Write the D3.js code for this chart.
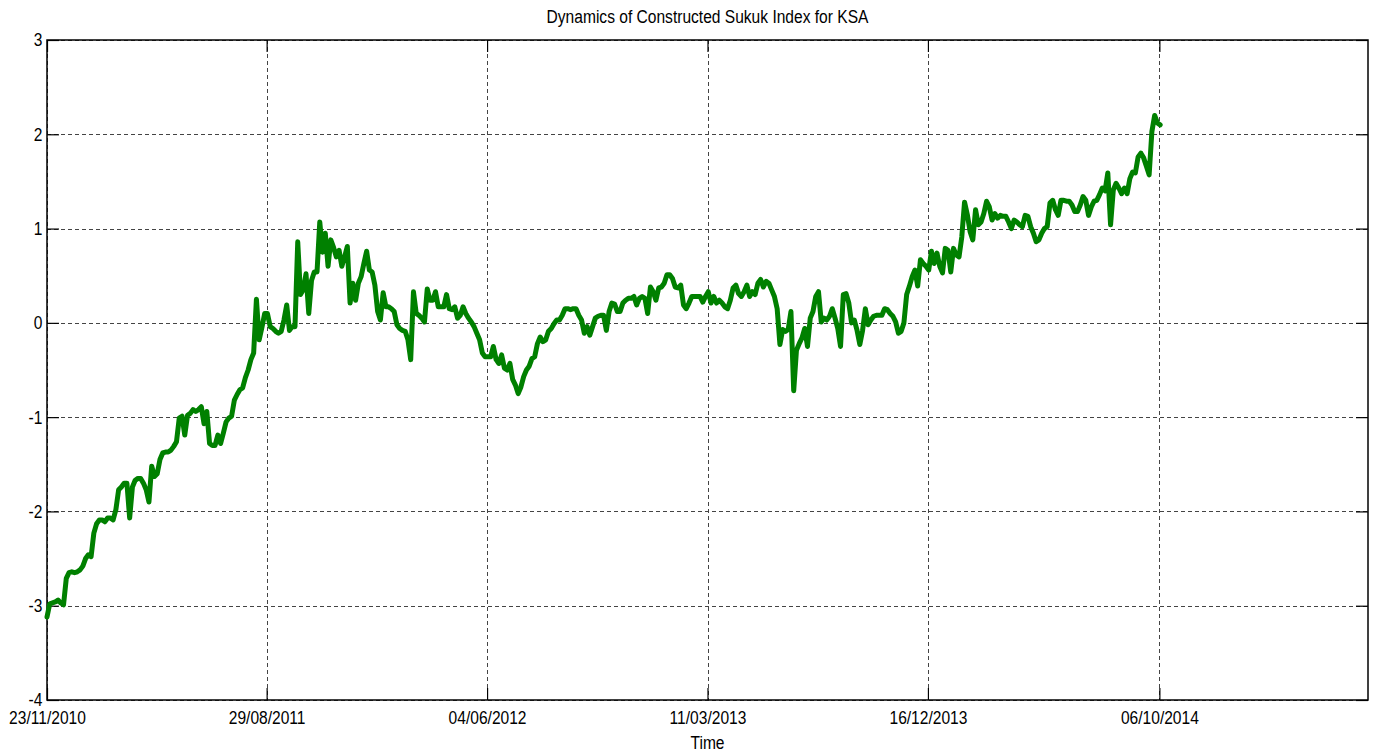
<!DOCTYPE html>
<html>
<head>
<meta charset="utf-8">
<script src="https://cdn.jsdelivr.net/npm/d3@7"></script>
<style>
  body { margin: 0; background: #fff; }
  text { font-family: "Liberation Sans", Arial, Helvetica, sans-serif; fill: #000; }
</style>
</head>
<body>
<svg id="chart" width="1373" height="752"></svg>
<script>
// Twice-weekly observations of the constructed sukuk index, starting 23/11/2010
const startDate = "2010-11-23";
const stepHours = 84;
const indexValues = [
  -3.12, -2.98, -2.97, -2.96, -2.94, -2.97, -2.99, -2.71, -2.65, -2.64,
  -2.65, -2.64, -2.62, -2.58, -2.50, -2.46, -2.48, -2.23, -2.13, -2.09,
  -2.09, -2.11, -2.07, -2.07, -2.09, -1.98, -1.77, -1.74, -1.70, -1.70,
  -2.07, -1.74, -1.67, -1.65, -1.65, -1.70, -1.77, -1.90, -1.52, -1.63,
  -1.60, -1.45, -1.38, -1.37, -1.37, -1.35, -1.31, -1.26, -1.01, -0.99,
  -1.19, -0.98, -0.96, -0.92, -0.94, -0.92, -0.89, -1.07, -0.94, -1.28,
  -1.30, -1.30, -1.19, -1.28, -1.17, -1.05, -1.01, -0.99, -0.82, -0.76,
  -0.71, -0.69, -0.58, -0.50, -0.39, -0.32, 0.25, -0.18, -0.05, 0.10,
  0.10, -0.04, -0.06, -0.09, -0.11, -0.09, 0.03, 0.19, -0.08, -0.04,
  -0.04, 0.86, 0.30, 0.35, 0.52, 0.10, 0.45, 0.54, 0.54, 1.07,
  0.75, 0.95, 0.60, 0.88, 0.80, 0.70, 0.77, 0.60, 0.70, 0.81,
  0.21, 0.42, 0.24, 0.42, 0.49, 0.63, 0.76, 0.56, 0.54, 0.40,
  0.12, 0.03, 0.32, 0.17, 0.17, 0.15, 0.12, -0.02, -0.06, -0.08,
  -0.09, -0.18, -0.39, 0.33, 0.10, 0.08, 0.05, 0.01, 0.36, 0.24,
  0.24, 0.33, 0.17, 0.17, 0.17, 0.30, 0.15, 0.14, 0.17, 0.05,
  0.08, 0.17, 0.10, 0.05, 0.01, -0.04, -0.11, -0.18, -0.32, -0.36,
  -0.36, -0.36, -0.25, -0.39, -0.43, -0.34, -0.48, -0.50, -0.43, -0.60,
  -0.66, -0.75, -0.68, -0.57, -0.50, -0.46, -0.38, -0.36, -0.22, -0.15,
  -0.20, -0.18, -0.09, -0.06, -0.01, 0.03, 0.03, 0.08, 0.15, 0.15,
  0.14, 0.15, 0.15, 0.08, 0.03, -0.11, -0.04, -0.13, -0.04, 0.05,
  0.07, 0.08, 0.08, -0.08, 0.12, 0.21, 0.20, 0.12, 0.12, 0.21,
  0.24, 0.26, 0.26, 0.28, 0.19, 0.26, 0.28, 0.26, 0.10, 0.38,
  0.33, 0.24, 0.37, 0.38, 0.42, 0.51, 0.51, 0.47, 0.38, 0.37,
  0.40, 0.19, 0.15, 0.21, 0.28, 0.28, 0.28, 0.28, 0.22, 0.28,
  0.33, 0.21, 0.28, 0.21, 0.24, 0.21, 0.17, 0.15, 0.24, 0.37,
  0.40, 0.31, 0.28, 0.33, 0.40, 0.28, 0.33, 0.30, 0.42, 0.46,
  0.38, 0.44, 0.42, 0.35, 0.28, 0.15, -0.23, -0.07, -0.09, -0.07,
  0.12, -0.72, -0.29, -0.22, -0.16, -0.06, -0.25, 0.05, 0.12, 0.28,
  0.33, 0.01, 0.05, 0.03, 0.07, 0.15, 0.05, -0.06, -0.25, 0.30,
  0.31, 0.21, 0.00, 0.03, -0.08, -0.23, -0.08, 0.15, -0.02, 0.03,
  0.07, 0.08, 0.08, 0.08, 0.15, 0.14, 0.10, 0.07, 0.01, -0.11,
  -0.09, 0.00, 0.30, 0.39, 0.49, 0.56, 0.39, 0.67, 0.63, 0.60,
  0.56, 0.76, 0.63, 0.74, 0.60, 0.53, 0.79, 0.77, 0.54, 0.79,
  0.72, 0.70, 0.91, 1.28, 1.15, 0.97, 0.88, 1.20, 1.04, 1.07,
  1.16, 1.29, 1.23, 1.09, 1.16, 1.11, 1.14, 1.13, 1.13, 1.07,
  1.00, 1.09, 1.07, 1.04, 1.02, 1.14, 1.13, 1.02, 0.95, 0.86,
  0.88, 0.95, 1.00, 1.02, 1.27, 1.30, 1.20, 1.14, 1.30, 1.30,
  1.29, 1.29, 1.25, 1.18, 1.18, 1.25, 1.34, 1.30, 1.14, 1.23,
  1.29, 1.30, 1.36, 1.43, 1.40, 1.59, 1.04, 1.41, 1.48, 1.43,
  1.37, 1.43, 1.37, 1.53, 1.60, 1.59, 1.76, 1.80, 1.75, 1.66,
  1.57, 2.03, 2.20, 2.12, 2.10
];
const xTickLabels = ["23/11/2010", "29/08/2011", "04/06/2012", "11/03/2013", "16/12/2013", "06/10/2014"];
const yTickValues = [-4, -3, -2, -1, 0, 1, 2, 3];
const xLimits = ["2010-11-23", "2015-06-28"];
const yLimits = [-4, 3];
const titleText = "Dynamics of Constructed Sukuk Index for KSA";
const xLabelText = "Time";

const W = 1373, H = 752;
const margin = { top: 40, right: 5, bottom: 52, left: 47 };
const innerW = W - margin.left - margin.right;
const innerH = H - margin.top - margin.bottom;
const narrow = "scale(0.82,1)";
const fontPx = 19;

const parseIso = d3.utcParse("%Y-%m-%d");
const parseDmy = d3.utcParse("%d/%m/%Y");
const fmtDmy = d3.utcFormat("%d/%m/%Y");

const start = parseIso(startDate);
const series = indexValues.map((v, i) => ({ date: d3.utcHour.offset(start, i * stepHours), value: v }));
const xTicks = xTickLabels.map(parseDmy);

const x = d3.scaleUtc().domain(xLimits.map(parseIso)).range([0, innerW]);
const y = d3.scaleLinear().domain(yLimits).range([innerH, 0]);

const svg = d3.select("#chart");
const g = svg.append("g").attr("transform", `translate(${margin.left},${margin.top})`);

// dashed grid
const grid = g.append("g").attr("stroke", "#444").attr("stroke-width", 1).attr("stroke-dasharray", "4,3");
grid.selectAll("line.h").data(yTickValues).join("line")
  .attr("x1", 0).attr("x2", innerW)
  .attr("y1", d => Math.round(y(d)) + 0.5).attr("y2", d => Math.round(y(d)) + 0.5);
grid.selectAll("line.v").data(xTicks).join("line")
  .attr("x1", d => Math.round(x(d)) + 0.5).attr("x2", d => Math.round(x(d)) + 0.5)
  .attr("y1", 0).attr("y2", innerH);

// axes with inward ticks on all four sides
const tick = 12;
const bottomAxis = g.append("g").attr("transform", `translate(0,${innerH})`)
  .call(d3.axisBottom(x).tickValues(xTicks).tickFormat(fmtDmy).tickSizeInner(-tick).tickSizeOuter(0).tickPadding(10.8));
const topAxis = g.append("g")
  .call(d3.axisTop(x).tickValues(xTicks).tickFormat("").tickSizeInner(-tick).tickSizeOuter(0));
const leftAxis = g.append("g")
  .call(d3.axisLeft(y).tickValues(yTickValues).tickFormat(d => String(d)).tickSizeInner(-tick).tickSizeOuter(0).tickPadding(5.7));
const rightAxis = g.append("g").attr("transform", `translate(${innerW},0)`)
  .call(d3.axisRight(y).tickValues(yTickValues).tickFormat("").tickSizeInner(-tick).tickSizeOuter(0));

[bottomAxis, topAxis, leftAxis, rightAxis].forEach(a => {
  a.select(".domain").remove();
  a.selectAll(".tick line").attr("stroke", "#000").attr("stroke-width", 1.2);
  a.selectAll(".tick text").attr("font-size", fontPx).attr("font-family", null).attr("fill", "#000")
    .attr("transform", narrow);
});
leftAxis.selectAll(".tick text").attr("dy", "0.31em");

// axes box
g.append("rect").attr("x", 0).attr("y", 0).attr("width", innerW).attr("height", innerH)
  .attr("fill", "none").attr("stroke", "#000").attr("stroke-width", 1.5);

// index line
const line = d3.line().x(d => x(d.date)).y(d => y(d.value));
g.append("path").datum(series)
  .attr("d", line)
  .attr("fill", "none")
  .attr("stroke", "#008000")
  .attr("stroke-width", 5)
  .attr("stroke-linejoin", "round")
  .attr("stroke-linecap", "round");

// title and axis label
svg.append("text")
  .attr("transform", `translate(${margin.left + innerW / 2},23) ${narrow}`)
  .attr("text-anchor", "middle").attr("font-size", fontPx)
  .text(titleText);
svg.append("text")
  .attr("transform", `translate(${margin.left + innerW / 2},749) ${narrow}`)
  .attr("text-anchor", "middle").attr("font-size", fontPx)
  .text(xLabelText);
</script>
</body>
</html>
